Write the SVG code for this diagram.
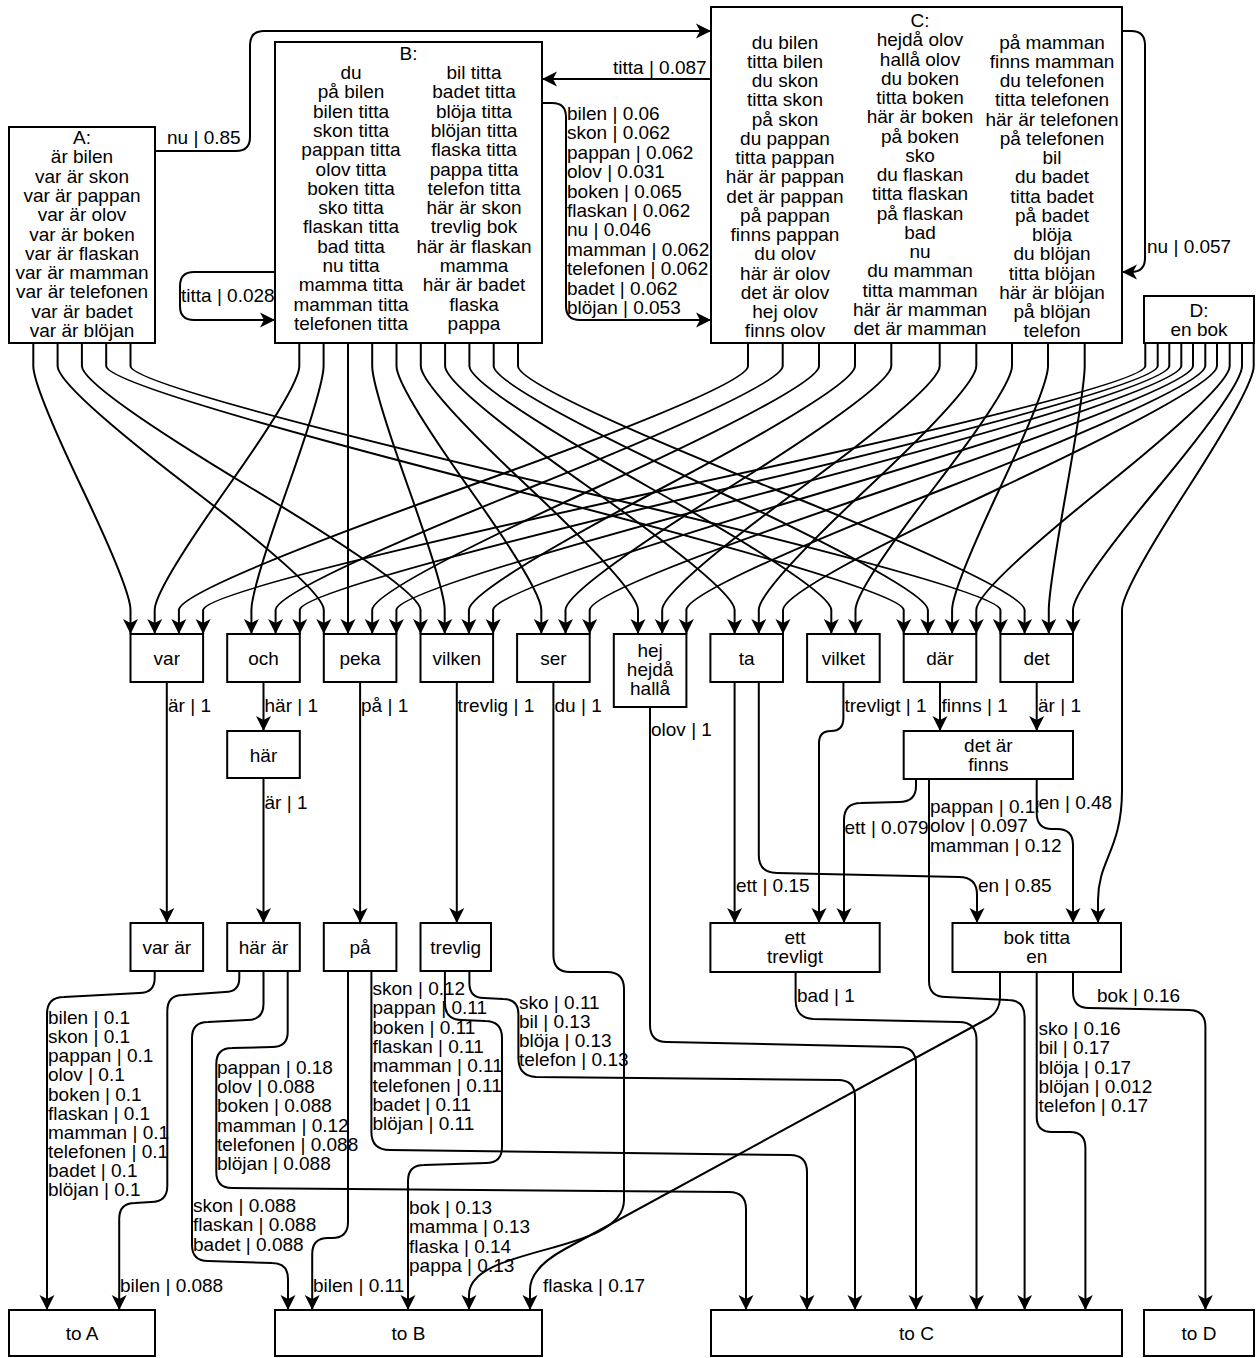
<svg xmlns="http://www.w3.org/2000/svg" width="1257" height="1358" viewBox="0 0 1257 1358">
<defs>
<marker id="a" markerUnits="userSpaceOnUse" markerWidth="15" markerHeight="15" viewBox="0 0 15 15" refX="15" refY="7.5" orient="auto" overflow="visible">
<path d="M0,0 L15,7.5 L0,15 L4,7.5 Z" fill="#000"/>
</marker>
<style>
.n rect{fill:#fff;stroke:#000;stroke-width:2}
text{font-family:"Liberation Sans",Arial,sans-serif;font-size:19px;fill:#000}
.c{text-anchor:middle}
.l{text-anchor:start}
.e path{fill:none;stroke:#000;stroke-width:2;marker-end:url(#a)}
</style>
</defs>
<rect width="1257" height="1358" fill="#fff"/>

<g id="connectors" class="e">
<path d="M155,151 L236,151 Q250,151 250,137 L250,45 Q250,31 264,31 L711,31"/>
<path d="M711,79 L542,79"/>
<path d="M542,103 L552,103 Q566,103 566,117 L566,306 Q566,320 580,320 L711,320"/>
<path d="M275,272 L194,272 Q180,272 180,286 L180,306 Q180,320 194,320 L275,320"/>
<path d="M1122,31 L1131,31 Q1145,31 1145,45 L1145,258 Q1145,272 1131,272 L1122,272"/>

<path d="M33.3,343 L33.3,366 Q33.3,386 81.9,488 Q130.5,590 130.5,610 L130.5,634"/>
<path d="M57.6,343 L57.6,366 Q57.6,386 190.7,488 Q323.8,590 323.8,610 L323.8,634"/>
<path d="M81.9,343 L81.9,366 Q81.9,386 251.2,488 Q420.5,590 420.5,610 L420.5,634"/>
<path d="M106.2,343 L106.2,366 Q106.2,386 505,488 Q903.7,590 903.7,610 L903.7,634"/>
<path d="M130.5,343 L130.5,366 Q130.5,386 565.5,488 Q1000.4,590 1000.4,610 L1000.4,634"/>

<path d="M299.3,343 L299.3,366 Q299.3,386 227,488 Q154.7,590 154.7,610 L154.7,634"/>
<path d="M323.6,343 L323.6,366 Q323.6,386 287.5,488 Q251.4,590 251.4,610 L251.4,634"/>
<path d="M348,343 L348,634"/>
<path d="M372.2,343 L372.2,366 Q372.2,386 408.5,488 Q444.7,590 444.7,610 L444.7,634"/>
<path d="M396.5,343 L396.5,366 Q396.5,386 468.9,488 Q541.3,590 541.3,610 L541.3,634"/>
<path d="M420.8,343 L420.8,366 Q420.8,386 529.4,488 Q638,590 638,610 L638,634"/>
<path d="M445.1,343 L445.1,366 Q445.1,386 589.9,488 Q734.6,590 734.6,610 L734.6,634"/>
<path d="M469.4,343 L469.4,366 Q469.4,386 650.4,488 Q831.3,590 831.3,610 L831.3,634"/>
<path d="M493.7,343 L493.7,366 Q493.7,386 710.8,488 Q927.9,590 927.9,610 L927.9,634"/>
<path d="M518,343 L518,366 Q518,386 771.3,488 Q1024.6,590 1024.6,610 L1024.6,634"/>

<path d="M748,343 L748,366 Q748,386 463.5,488 Q178.9,590 178.9,610 L178.9,634"/>
<path d="M782.7,343 L782.7,366 Q782.7,386 529.2,488 Q275.6,590 275.6,610 L275.6,634"/>
<path d="M819,343 L819,366 Q819,386 595.6,488 Q372.2,590 372.2,610 L372.2,634"/>
<path d="M855,343 L855,366 Q855,386 662,488 Q468.9,590 468.9,610 L468.9,634"/>
<path d="M891.3,343 L891.3,366 Q891.3,386 728.4,488 Q565.5,590 565.5,610 L565.5,634"/>
<path d="M939.7,343 L939.7,366 Q939.7,386 801,488 Q662.2,590 662.2,610 L662.2,634"/>
<path d="M976.3,343 L976.3,366 Q976.3,386 867.6,488 Q758.8,590 758.8,610 L758.8,634"/>
<path d="M1012,343 L1012,366 Q1012,386 933.8,488 Q855.5,590 855.5,610 L855.5,634"/>
<path d="M1048,343 L1048,366 Q1048,386 1000,488 Q952.1,590 952.1,610 L952.1,634"/>
<path d="M1084.7,343 L1084.7,366 Q1084.7,386 1066.8,488 Q1048.8,590 1048.8,610 L1048.8,634"/>

<path d="M1145.3,343 L1145.3,366 Q1145.3,386 674.2,488 Q203.1,590 203.1,610 L203.1,634"/>
<path d="M1157.7,343 L1157.7,366 Q1157.7,386 728.8,488 Q299.8,590 299.8,610 L299.8,634"/>
<path d="M1169.3,343 L1169.3,366 Q1169.3,386 782.9,488 Q396.4,590 396.4,610 L396.4,634"/>
<path d="M1181.3,343 L1181.3,366 Q1181.3,386 837.2,488 Q493.1,590 493.1,610 L493.1,634"/>
<path d="M1193,343 L1193,366 Q1193,386 891.4,488 Q589.7,590 589.7,610 L589.7,634"/>
<path d="M1205.3,343 L1205.3,366 Q1205.3,386 945.9,488 Q686.4,590 686.4,610 L686.4,634"/>
<path d="M1217,343 L1217,366 Q1217,386 1000,488 Q783,590 783,610 L783,634"/>
<path d="M1229.7,343 L1229.7,366 Q1229.7,386 1103,488 Q976.3,590 976.3,610 L976.3,634"/>
<path d="M1242,343 L1242,366 Q1242,386 1157.5,488 Q1073,590 1073,610 L1073,634"/>
<path d="M1253.7,343 L1253.7,366 Q1253.7,386 1188,488 Q1122,590 1122,610 L1122,790 C1122,850 1098,860 1098,900 L1098,923"/>

<path d="M166.8,682 L166.8,923"/>
<path d="M263.5,682 L263.5,731"/>
<path d="M263.5,778 L263.5,923"/>
<path d="M360.1,682 L360.1,923"/>
<path d="M456.8,682 L456.8,923"/>
<path d="M553.4,682 L553.4,955 Q553.4,972 570,972 L607,972 Q624,972 624,989 L624,1200 C624,1255 469,1245 469,1295 L469,1310"/>
<path d="M650,707 L650,1025 Q650,1042 667,1042 L899,1047 Q916,1047 916,1064 L916,1310"/>
<path d="M734.6,682 L734.6,923"/>
<path d="M758.8,682 L758.8,855 Q758.8,873 777,873 L959,877 Q977,877 977,895 L977,923"/>
<path d="M843.4,682 L843.4,718 Q843.4,731 831,731 Q819,731 819,743 L819,923"/>
<path d="M940,682 L940,731"/>
<path d="M1036.7,682 L1036.7,731"/>
<path d="M916,779 L916,786 Q916,802 899,802 L861,803 Q844,803 844,820 L844,923"/>
<path d="M929,779 L929,981 Q929,997 946,997 L1008,1000 Q1024.6,1000 1024.6,1017 L1024.6,1310"/>
<path d="M795.6,972 L795.6,1000 Q795.6,1018 813,1019 L959,1022 Q976.5,1022 976.5,1040 L976.5,1310"/>
<path d="M1000,972 L1000,997 Q1000,1012 987,1019 L565,1249 Q530,1268 530,1290 L530,1310"/>
<path d="M1036.7,972 L1036.7,1117 Q1036.7,1132 1052,1132 L1070,1132 Q1085.4,1132 1085.4,1148 L1085.4,1310"/>
<path d="M1073,972 L1073,992 Q1073,1008 1089,1008 L1189,1010 Q1205.4,1010 1205.4,1027 L1205.4,1310"/>
<path d="M154.7,971 L154.7,978 Q154.7,993 139,993 L64,997 Q47,997 47,1014 L47,1310"/>
<path d="M239.3,971 L239.3,978 Q239.3,992 225,992 L183,995 Q167.3,995 167.3,1011 L167.3,1186 Q167.3,1202 151,1202 L135,1203 Q119.2,1203 119.2,1219 L119.2,1310"/>
<path d="M263.5,971 L263.5,1004 Q263.5,1020 247,1020 L208,1022 Q192,1022 192,1038 L192,1245 Q192,1261 208,1261 L272,1263 Q288,1263 288,1279 L288,1310"/>
<path d="M287.7,971 L287.7,1032 Q287.7,1047 272,1047 L232,1048 Q216.3,1048 216.3,1064 L216.3,1172 Q216.3,1188 232,1188 L729,1192 Q746,1192 746,1209 L746,1310"/>
<path d="M371.4,971 L371.4,1132 Q371.4,1150 390,1150 L790,1155 Q807,1155 807,1172 L807,1310"/>
<path d="M348,971 L348,1222 Q348,1238 332,1238 L328,1238 Q312.2,1238 312.2,1254 L312.2,1310"/>
<path d="M469.4,971 L469.4,983 Q469.4,998 484,998 L503,999 Q518.4,999 518.4,1014 L518.4,1058 Q518.4,1076 536,1077 L838,1080 Q855,1080 855,1097 L855,1310"/>
<path d="M444.9,971 L444.9,1003 Q444.9,1020 462,1020 L485,1021 Q502,1021 502,1038 L502,1147 Q502,1163 486,1163 L424,1165 Q408,1165 408,1181 L408,1310"/>
<path d="M1036.7,779 L1036.7,813 Q1036.7,829 1052,829 L1057,829 Q1073,829 1073,845 L1073,923"/>
</g>

<g id="edge-labels" class="l">
<text x="167" y="144">nu | 0.85</text>
<text x="613" y="74">titta | 0.087</text>
<text x="567" y="120">bilen | 0.06<tspan x="567" dy="19.4">skon | 0.062</tspan><tspan x="567" dy="19.4">pappan | 0.062</tspan><tspan x="567" dy="19.4">olov | 0.031</tspan><tspan x="567" dy="19.4">boken | 0.065</tspan><tspan x="567" dy="19.4">flaskan | 0.062</tspan><tspan x="567" dy="19.4">nu | 0.046</tspan><tspan x="567" dy="19.4">mamman | 0.062</tspan><tspan x="567" dy="19.4">telefonen | 0.062</tspan><tspan x="567" dy="19.4">badet | 0.062</tspan><tspan x="567" dy="19.4">blöjan | 0.053</tspan></text>
<text x="181" y="302">titta | 0.028</text>
<text x="1147" y="253">nu | 0.057</text>
<text x="168" y="712">är | 1</text>
<text x="264.5" y="712">här | 1</text>
<text x="361" y="712">på | 1</text>
<text x="457.5" y="712">trevlig | 1</text>
<text x="554.5" y="712">du | 1</text>
<text x="651" y="736">olov | 1</text>
<text x="844.5" y="712">trevligt | 1</text>
<text x="941.5" y="712">finns | 1</text>
<text x="1038" y="712">är | 1</text>
<text x="264.5" y="809">är | 1</text>
<text x="844.5" y="834">ett | 0.079</text>
<text x="930" y="813">pappan | 0.18<tspan x="930" dy="19.3">olov | 0.097</tspan><tspan x="930" dy="19.3">mamman | 0.12</tspan></text>
<rect x="1038.5" y="794" width="74" height="19" fill="#fff"/>
<text x="1038.5" y="809">en | 0.48</text>
<text x="736" y="892">ett | 0.15</text>
<text x="978" y="892">en | 0.85</text>
<text x="797" y="1002">bad | 1</text>
<text x="1097" y="1002">bok | 0.16</text>
<text x="1038.5" y="1035">sko | 0.16<tspan x="1038.5" dy="19.25">bil | 0.17</tspan><tspan x="1038.5" dy="19.25">blöja | 0.17</tspan><tspan x="1038.5" dy="19.25">blöjan | 0.012</tspan><tspan x="1038.5" dy="19.25">telefon | 0.17</tspan></text>
<text x="48" y="1024">bilen | 0.1<tspan x="48" dy="19.15">skon | 0.1</tspan><tspan x="48" dy="19.15">pappan | 0.1</tspan><tspan x="48" dy="19.15">olov | 0.1</tspan><tspan x="48" dy="19.15">boken | 0.1</tspan><tspan x="48" dy="19.15">flaskan | 0.1</tspan><tspan x="48" dy="19.15">mamman | 0.1</tspan><tspan x="48" dy="19.15">telefonen | 0.1</tspan><tspan x="48" dy="19.15">badet | 0.1</tspan><tspan x="48" dy="19.15">blöjan | 0.1</tspan></text>
<text x="120" y="1292">bilen | 0.088</text>
<text x="193" y="1212">skon | 0.088<tspan x="193" dy="19.3">flaskan | 0.088</tspan><tspan x="193" dy="19.3">badet | 0.088</tspan></text>
<text x="217" y="1074">pappan | 0.18<tspan x="217" dy="19.2">olov | 0.088</tspan><tspan x="217" dy="19.2">boken | 0.088</tspan><tspan x="217" dy="19.2">mamman | 0.12</tspan><tspan x="217" dy="19.2">telefonen | 0.088</tspan><tspan x="217" dy="19.2">blöjan | 0.088</tspan></text>
<text x="372.5" y="995">skon | 0.12<tspan x="372.5" dy="19.3">pappan | 0.11</tspan><tspan x="372.5" dy="19.3">boken | 0.11</tspan><tspan x="372.5" dy="19.3">flaskan | 0.11</tspan><tspan x="372.5" dy="19.3">mamman | 0.11</tspan><tspan x="372.5" dy="19.3">telefonen | 0.11</tspan><tspan x="372.5" dy="19.3">badet | 0.11</tspan><tspan x="372.5" dy="19.3">blöjan | 0.11</tspan></text>
<text x="313" y="1292">bilen | 0.11</text>
<text x="409" y="1214">bok | 0.13<tspan x="409" dy="19.3">mamma | 0.13</tspan><tspan x="409" dy="19.3">flaska | 0.14</tspan><tspan x="409" dy="19.3">pappa | 0.13</tspan></text>
<text x="519" y="1009">sko | 0.11<tspan x="519" dy="19.1">bil | 0.13</tspan><tspan x="519" dy="19.1">blöja | 0.13</tspan><tspan x="519" dy="19.1">telefon | 0.13</tspan></text>
<text x="543" y="1292">flaska | 0.17</text>
</g>

<g id="node-A" class="n">
<rect x="9" y="127" width="146" height="216"/>
<text class="c" x="82" y="144">A:<tspan x="82" dy="19.3">är bilen</tspan><tspan x="82" dy="19.3">var är skon</tspan><tspan x="82" dy="19.3">var är pappan</tspan><tspan x="82" dy="19.3">var är olov</tspan><tspan x="82" dy="19.3">var är boken</tspan><tspan x="82" dy="19.3">var är flaskan</tspan><tspan x="82" dy="19.3">var är mamman</tspan><tspan x="82" dy="19.3">var är telefonen</tspan><tspan x="82" dy="19.3">var är badet</tspan><tspan x="82" dy="19.3">var är blöjan</tspan></text>
</g>
<g id="node-B" class="n">
<rect x="275" y="42" width="267" height="301"/>
<text class="c" x="408.5" y="59.7">B:</text>
<text class="c" x="351" y="79">du<tspan x="351" dy="19.3">på bilen</tspan><tspan x="351" dy="19.3">bilen titta</tspan><tspan x="351" dy="19.3">skon titta</tspan><tspan x="351" dy="19.3">pappan titta</tspan><tspan x="351" dy="19.3">olov titta</tspan><tspan x="351" dy="19.3">boken titta</tspan><tspan x="351" dy="19.3">sko titta</tspan><tspan x="351" dy="19.3">flaskan titta</tspan><tspan x="351" dy="19.3">bad titta</tspan><tspan x="351" dy="19.3">nu titta</tspan><tspan x="351" dy="19.3">mamma titta</tspan><tspan x="351" dy="19.3">mamman titta</tspan><tspan x="351" dy="19.3">telefonen titta</tspan></text>
<text class="c" x="474" y="79">bil titta<tspan x="474" dy="19.3">badet titta</tspan><tspan x="474" dy="19.3">blöja titta</tspan><tspan x="474" dy="19.3">blöjan titta</tspan><tspan x="474" dy="19.3">flaska titta</tspan><tspan x="474" dy="19.3">pappa titta</tspan><tspan x="474" dy="19.3">telefon titta</tspan><tspan x="474" dy="19.3">här är skon</tspan><tspan x="474" dy="19.3">trevlig bok</tspan><tspan x="474" dy="19.3">här är flaskan</tspan><tspan x="474" dy="19.3">mamma</tspan><tspan x="474" dy="19.3">här är badet</tspan><tspan x="474" dy="19.3">flaska</tspan><tspan x="474" dy="19.3">pappa</tspan></text>
</g>
<g id="node-C" class="n">
<rect x="711" y="7" width="411" height="336"/>
<text class="c" x="785" y="48.7">du bilen<tspan x="785" dy="19.25">titta bilen</tspan><tspan x="785" dy="19.25">du skon</tspan><tspan x="785" dy="19.25">titta skon</tspan><tspan x="785" dy="19.25">på skon</tspan><tspan x="785" dy="19.25">du pappan</tspan><tspan x="785" dy="19.25">titta pappan</tspan><tspan x="785" dy="19.25">här är pappan</tspan><tspan x="785" dy="19.25">det är pappan</tspan><tspan x="785" dy="19.25">på pappan</tspan><tspan x="785" dy="19.25">finns pappan</tspan><tspan x="785" dy="19.25">du olov</tspan><tspan x="785" dy="19.25">här är olov</tspan><tspan x="785" dy="19.25">det är olov</tspan><tspan x="785" dy="19.25">hej olov</tspan><tspan x="785" dy="19.25">finns olov</tspan></text>
<text class="c" x="920" y="27">C:<tspan x="920" dy="19.25">hejdå olov</tspan><tspan x="920" dy="19.25">hallå olov</tspan><tspan x="920" dy="19.25">du boken</tspan><tspan x="920" dy="19.25">titta boken</tspan><tspan x="920" dy="19.25">här är boken</tspan><tspan x="920" dy="19.25">på boken</tspan><tspan x="920" dy="19.25">sko</tspan><tspan x="920" dy="19.25">du flaskan</tspan><tspan x="920" dy="19.25">titta flaskan</tspan><tspan x="920" dy="19.25">på flaskan</tspan><tspan x="920" dy="19.25">bad</tspan><tspan x="920" dy="19.25">nu</tspan><tspan x="920" dy="19.25">du mamman</tspan><tspan x="920" dy="19.25">titta mamman</tspan><tspan x="920" dy="19.25">här är mamman</tspan><tspan x="920" dy="19.25">det är mamman</tspan></text>
<text class="c" x="1052" y="48.7">på mamman<tspan x="1052" dy="19.25">finns mamman</tspan><tspan x="1052" dy="19.25">du telefonen</tspan><tspan x="1052" dy="19.25">titta telefonen</tspan><tspan x="1052" dy="19.25">här är telefonen</tspan><tspan x="1052" dy="19.25">på telefonen</tspan><tspan x="1052" dy="19.25">bil</tspan><tspan x="1052" dy="19.25">du badet</tspan><tspan x="1052" dy="19.25">titta badet</tspan><tspan x="1052" dy="19.25">på badet</tspan><tspan x="1052" dy="19.25">blöja</tspan><tspan x="1052" dy="19.25">du blöjan</tspan><tspan x="1052" dy="19.25">titta blöjan</tspan><tspan x="1052" dy="19.25">här är blöjan</tspan><tspan x="1052" dy="19.25">på blöjan</tspan><tspan x="1052" dy="19.25">telefon</tspan></text>
</g>
<g id="node-D" class="n">
<rect x="1144" y="296" width="110" height="47"/>
<text class="c" x="1199" y="317">D:<tspan x="1199" dy="18.5">en bok</tspan></text>
</g>

<g id="node-var" class="n"><rect x="130.5" y="634" width="72.6" height="48"/><text class="c" x="166.8" y="665">var</text></g>
<g id="node-och" class="n"><rect x="227.2" y="634" width="72.6" height="48"/><text class="c" x="263.5" y="665">och</text></g>
<g id="node-peka" class="n"><rect x="323.8" y="634" width="72.6" height="48"/><text class="c" x="360.1" y="665">peka</text></g>
<g id="node-vilken" class="n"><rect x="420.5" y="634" width="72.6" height="48"/><text class="c" x="456.8" y="665">vilken</text></g>
<g id="node-ser" class="n"><rect x="517.1" y="634" width="72.6" height="48"/><text class="c" x="553.4" y="665">ser</text></g>
<g id="node-hej" class="n"><rect x="613.8" y="634" width="72.6" height="73"/><text class="c" x="650.1" y="657">hej<tspan x="650.1" dy="19">hejdå</tspan><tspan x="650.1" dy="19">hallå</tspan></text></g>
<g id="node-ta" class="n"><rect x="710.4" y="634" width="72.6" height="48"/><text class="c" x="746.7" y="665">ta</text></g>
<g id="node-vilket" class="n"><rect x="807.1" y="634" width="72.6" height="48"/><text class="c" x="843.4" y="665">vilket</text></g>
<g id="node-dar" class="n"><rect x="903.7" y="634" width="72.6" height="48"/><text class="c" x="940" y="665">där</text></g>
<g id="node-det" class="n"><rect x="1000.4" y="634" width="72.6" height="48"/><text class="c" x="1036.7" y="665">det</text></g>

<g id="node-har" class="n"><rect x="227.2" y="731" width="72.6" height="47"/><text class="c" x="263.5" y="762">här</text></g>
<g id="node-det-ar-finns" class="n"><rect x="903.7" y="731" width="169.3" height="48"/><text class="c" x="988.4" y="752">det är<tspan x="988.4" dy="19">finns</tspan></text></g>

<g id="node-var-ar" class="n"><rect x="130.5" y="923" width="72.6" height="48"/><text class="c" x="166.8" y="954">var är</text></g>
<g id="node-har-ar" class="n"><rect x="227.2" y="923" width="72.6" height="48"/><text class="c" x="263.5" y="954">här är</text></g>
<g id="node-pa" class="n"><rect x="323.8" y="923" width="72.6" height="48"/><text class="c" x="360.1" y="954">på</text></g>
<g id="node-trevlig" class="n"><rect x="420.5" y="923" width="70.5" height="48"/><text class="c" x="455.7" y="954">trevlig</text></g>
<g id="node-ett-trevligt" class="n"><rect x="710.4" y="923" width="169.3" height="49"/><text class="c" x="795" y="944">ett<tspan x="795" dy="19">trevligt</tspan></text></g>
<g id="node-bok-titta-en" class="n"><rect x="952.5" y="923" width="168.5" height="49"/><text class="c" x="1036.8" y="944">bok titta<tspan x="1036.8" dy="19">en</tspan></text></g>

<g id="node-to-A" class="n"><rect x="9" y="1310" width="146" height="46"/><text class="c" x="82" y="1340">to A</text></g>
<g id="node-to-B" class="n"><rect x="275" y="1310" width="267" height="46"/><text class="c" x="408.5" y="1340">to B</text></g>
<g id="node-to-C" class="n"><rect x="711" y="1310" width="411" height="46"/><text class="c" x="916.5" y="1340">to C</text></g>
<g id="node-to-D" class="n"><rect x="1144" y="1310" width="110" height="46"/><text class="c" x="1199" y="1340">to D</text></g>
</svg>
